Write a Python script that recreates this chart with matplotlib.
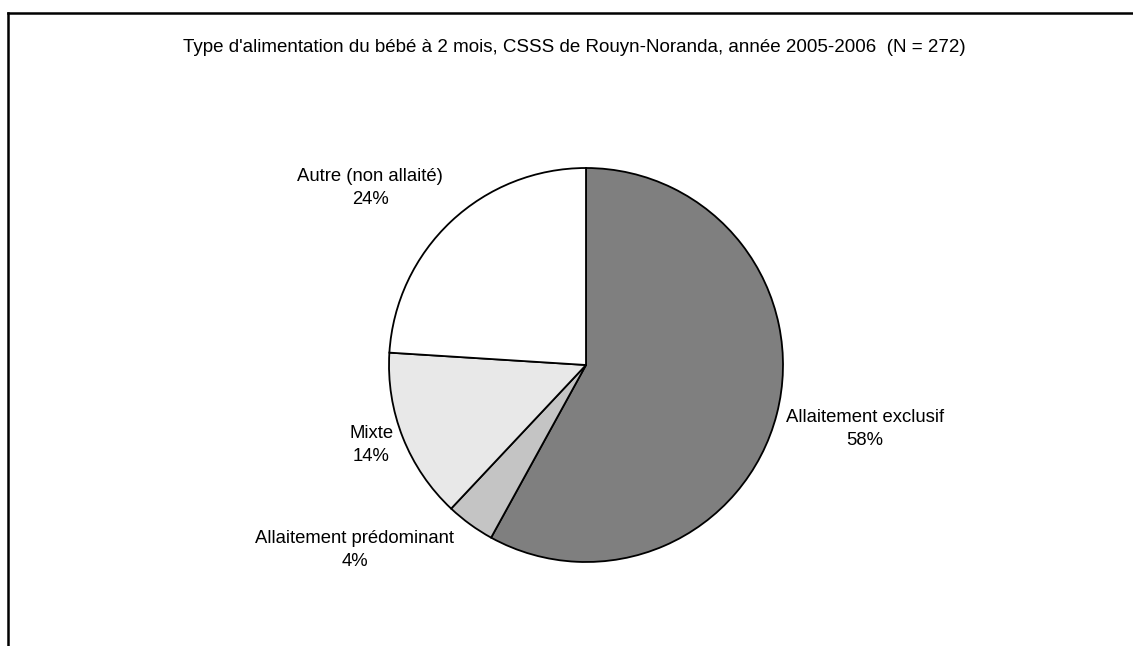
import matplotlib
matplotlib.use("Agg")
import matplotlib.pyplot as plt
from matplotlib.lines import Line2D

plt.rcParams["font.family"] = ["Liberation Sans", "DejaVu Sans"]

title = "Type d'alimentation du bébé à 2 mois, CSSS de Rouyn-Noranda, année 2005-2006  (N = 272)"
categories = ["Allaitement exclusif", "Allaitement prédominant", "Mixte", "Autre (non allaité)"]
percents = [58, 4, 14, 24]
colors = ["#7f7f7f", "#c4c4c4", "#e8e8e8", "#ffffff"]

# label centres, in units of the pie radius
label_pos = [(1.416, -0.325), (-1.173, -0.939), (-1.091, -0.406), (-1.096, 0.898)]

W, H = 1133, 646
fig = plt.figure(figsize=(W / 100, H / 100), dpi=100)

# pie box in pixels: centre (586, 365), radius 197
cx, cy, r = 586, 365, 197
ax = fig.add_axes([(cx - r) / W, (H - cy - r) / H, 2 * r / W, 2 * r / H])
ax.pie(percents, colors=colors, startangle=90, counterclock=False,
       wedgeprops=dict(edgecolor="black", linewidth=1.3))
ax.set_xlim(-1.0, 1.0)
ax.set_ylim(-1.0, 1.0)
ax.set_aspect("equal")
ax.axis("off")

for name, p, (x, y) in zip(categories, percents, label_pos):
    ax.text(x, y, f"{name}\n{p}%", ha="center", va="center", fontsize=13.3,
            multialignment="center", linespacing=1.4, clip_on=False)

fig.text(574 / W, 1 - 47 / H, title, ha="center", va="center", fontsize=13.5)

# frame: top and left only
fig.add_artist(Line2D([8 / W, 1.0], [1 - 13 / H, 1 - 13 / H], color="black", lw=1.8, transform=fig.transFigure))
fig.add_artist(Line2D([8 / W, 8 / W], [0.0, 1 - 13 / H], color="black", lw=1.8, transform=fig.transFigure))

fig.savefig("out.png", dpi=100)
